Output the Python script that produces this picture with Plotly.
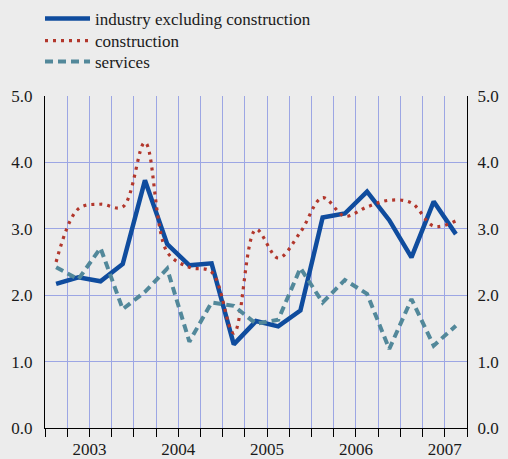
import plotly.graph_objects as go

# Quarterly series, 2003 Q1 – 2007 Q3 (percent)
quarters = [f"{y} Q{q}" for y in range(2003, 2008) for q in range(1, 5)][:19]
industry = [2.17, 2.27, 2.21, 2.47, 3.73, 2.77, 2.45, 2.48, 1.26, 1.61,
            1.53, 1.77, 3.17, 3.23, 3.56, 3.13, 2.57, 3.41, 2.92]
construction = [2.50, 3.30, 3.37, 3.33, 4.30, 2.65, 2.42, 2.35, 1.43, 2.99,
                2.56, 2.95, 3.47, 3.19, 3.33, 3.43, 3.39, 3.04, 3.12]
services = [2.42, 2.24, 2.71, 1.79, 2.05, 2.40, 1.30, 1.89, 1.84, 1.57,
            1.63, 2.41, 1.89, 2.23, 2.02, 1.19, 1.94, 1.24, 1.54]
years = ["2003", "2004", "2005", "2006", "2007"]
y_ticks = [0, 1, 2, 3, 4, 5]

# each quarter occupies one unit; points sit at the middle of their quarter
xpos = [i + 0.5 for i in range(len(quarters))]
year_centres = [4 * k + 2 for k in range(len(years))]

BG = "#ececec"
GRID = "#9ca6e4"
FONT = "Times New Roman, Liberation Serif, DejaVu Serif"
TXT = dict(family=FONT, size=17, color="#1a1a1a")

PLOT_TOP, PLOT_H = 96, 332


def legend_box(row_px):
    # one single-entry legend per series, stacked in the top-left corner
    return dict(x=-5 / 422, y=1 + (PLOT_TOP - row_px) / PLOT_H,
                xref="paper", yref="paper", xanchor="left", yanchor="middle",
                bgcolor="rgba(0,0,0,0)", borderwidth=0, itemwidth=45,
                font=dict(TXT))


fig = go.Figure()
fig.add_trace(go.Scatter(
    x=xpos, y=industry, name="industry excluding construction", mode="lines",
    line=dict(color="#0f4c9e", width=4.5), text=quarters, legend="legend"))
fig.add_trace(go.Scatter(
    x=xpos, y=construction, name="construction", mode="lines",
    line=dict(color="#b2372c", width=3.2, dash="3px,5px", shape="spline",
              smoothing=1.0), text=quarters, legend="legend2"))
fig.add_trace(go.Scatter(
    x=xpos, y=services, name="services", mode="lines",
    line=dict(color="#52889a", width=4, dash="8px,5px"), text=quarters,
    legend="legend3"))

# invisible trace carrying the right-hand axis and the year labels
fig.add_trace(go.Scatter(x=[0], y=[0], yaxis="y2", xaxis="x2", mode="none",
                         showlegend=False, hoverinfo="skip"))

fig.update_layout(
    width=508, height=459,
    margin=dict(l=45, r=41, t=PLOT_TOP, b=31, autoexpand=False),
    paper_bgcolor=BG, plot_bgcolor=BG,
    font=dict(TXT),
    showlegend=True,
    legend=legend_box(19),
    legend2=legend_box(41),
    legend3=legend_box(62),
    xaxis=dict(range=[0, 19], tickmode="array", tickvals=list(range(20)),
               showticklabels=False, ticks="outside", ticklen=8,
               tickcolor="black", tickwidth=1.2,
               showgrid=True, gridcolor=GRID, gridwidth=1,
               showline=True, linecolor="black", linewidth=1.2,
               zeroline=False, fixedrange=True),
    xaxis2=dict(range=[0, 19], overlaying="x", side="bottom", anchor="y",
                tickmode="array", tickvals=year_centres, ticktext=years,
                ticks="", showgrid=False, showline=False, zeroline=False,
                tickangle=0, ticklabelstandoff=9, tickfont=dict(TXT)),
    yaxis=dict(range=[0, 5], tickmode="array", tickvals=y_ticks,
               tickformat=".1f", ticks="", showgrid=True, gridcolor=GRID,
               gridwidth=1, showline=True, linecolor="black", linewidth=1.2,
               zeroline=False, ticklabelstandoff=8, tickfont=dict(TXT)),
    yaxis2=dict(range=[0, 5], overlaying="y", side="right", anchor="x",
                tickmode="array", tickvals=y_ticks, tickformat=".1f",
                ticks="", showgrid=False, showline=True, linecolor="black",
                linewidth=1.2, zeroline=False, ticklabelstandoff=6,
                tickfont=dict(TXT)),
)

fig.write_html("out.html")
